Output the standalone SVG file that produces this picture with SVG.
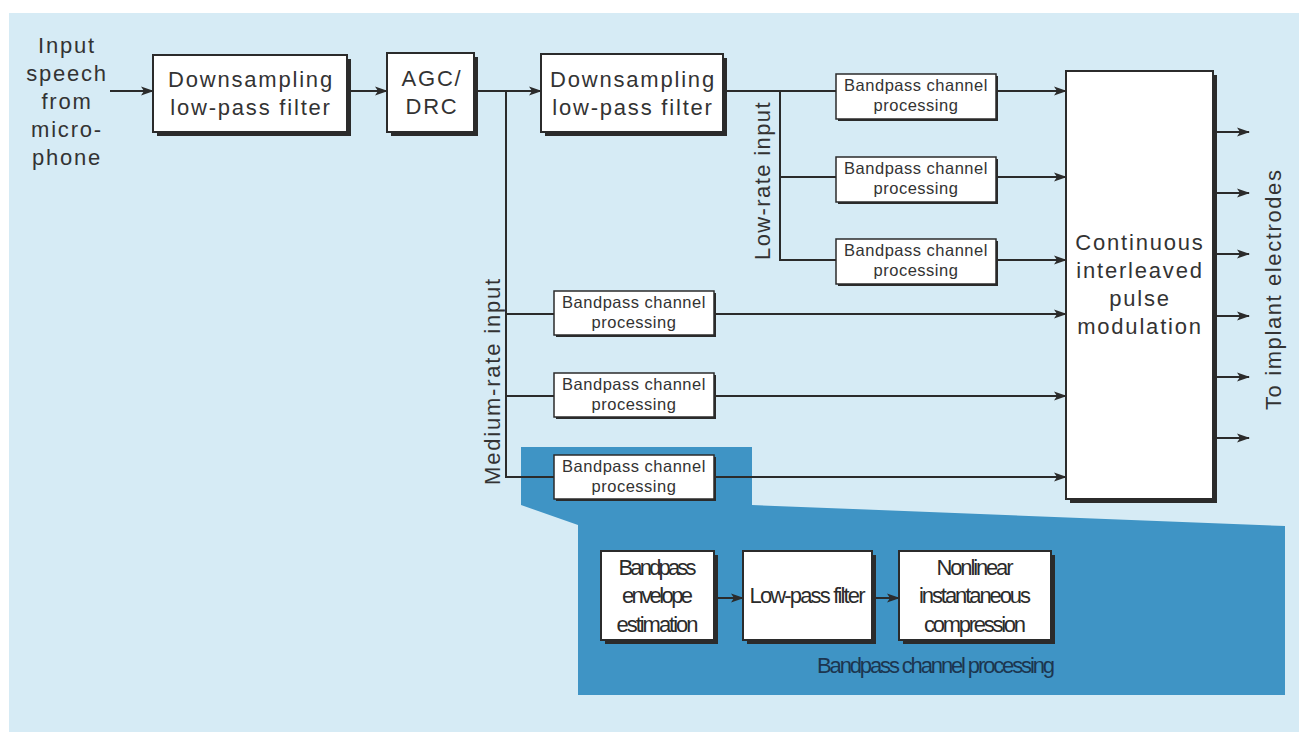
<svg xmlns="http://www.w3.org/2000/svg" width="1299" height="732" viewBox="0 0 1299 732">
  <defs>
    <marker id="arrow" viewBox="0 0 13 10" refX="12" refY="5" markerWidth="13" markerHeight="10" markerUnits="userSpaceOnUse" orient="auto">
      <path d="M0,0.5 L13,5 L0,9.5 L3,5 z" fill="#2b2b2b"/>
    </marker>
    <style>
      .bg { fill: #d6ebf5; }
      .hl { fill: #3f94c5; }
      .box { fill: #ffffff; stroke: #2b2b2b; stroke-width: 2; }
      .sbox { fill: #ffffff; stroke: #2b2b2b; stroke-width: 1.5; }
      .shadow { fill: #2b2b2b; }
      .wire { fill: none; stroke: #2b2b2b; stroke-width: 2; }
      .arr { fill: none; stroke: #2b2b2b; stroke-width: 2; marker-end: url(#arrow); }
      .t { font-family: "Liberation Sans", Arial, sans-serif; font-size: 22px; fill: #333333; letter-spacing: 1.8px; }
      .c { text-anchor: middle; }
      .s { font-family: "Liberation Sans", Arial, sans-serif; font-size: 16.5px; fill: #333333; letter-spacing: 0.5px; text-anchor: middle; }
      .n { font-family: "Liberation Sans Narrow", "Liberation Sans", Arial, sans-serif; font-size: 22px; fill: #2b2b2b; text-anchor: middle; }
      .cap { font-family: "Liberation Sans Narrow", "Liberation Sans", Arial, sans-serif; font-size: 22px; fill: #1c3650; text-anchor: end; }
    </style>
  </defs>

  <!-- page background -->
  <rect class="bg" x="9" y="13" width="1290" height="719"/>

  <!-- call-out region for the expanded channel -->
  <polygon class="hl" points="521,447 752,447 752,505 1285,526 1285,695 578,695 578,525 521,505"/>

  <!-- connectors -->
  <g id="connectors">
    <line class="arr" x1="110" y1="91" x2="153" y2="91"/>
    <line class="arr" x1="351" y1="91" x2="387" y2="91"/>
    <line class="arr" x1="477" y1="91" x2="541" y2="91"/>
    <!-- medium-rate bus -->
    <polyline class="wire" points="506,91 506,477 554,477"/>
    <line class="wire" x1="506" y1="314" x2="554" y2="314"/>
    <line class="wire" x1="506" y1="396" x2="554" y2="396"/>
    <!-- low-rate bus -->
    <line class="wire" x1="727" y1="91" x2="836" y2="91"/>
    <polyline class="wire" points="780,91 780,260 836,260"/>
    <line class="wire" x1="780" y1="177" x2="836" y2="177"/>
    <!-- channels into the pulse modulator -->
    <line class="arr" x1="996" y1="91" x2="1066" y2="91"/>
    <line class="arr" x1="996" y1="177" x2="1066" y2="177"/>
    <line class="arr" x1="996" y1="260" x2="1066" y2="260"/>
    <line class="arr" x1="714" y1="314" x2="1066" y2="314"/>
    <line class="arr" x1="714" y1="396" x2="1066" y2="396"/>
    <line class="arr" x1="714" y1="477" x2="1066" y2="477"/>
    <!-- electrode outputs -->
    <line class="arr" x1="1217" y1="132" x2="1249" y2="132"/>
    <line class="arr" x1="1217" y1="193" x2="1249" y2="193"/>
    <line class="arr" x1="1217" y1="254" x2="1249" y2="254"/>
    <line class="arr" x1="1217" y1="316" x2="1249" y2="316"/>
    <line class="arr" x1="1217" y1="377" x2="1249" y2="377"/>
    <line class="arr" x1="1217" y1="438" x2="1249" y2="438"/>
    <!-- inside the channel -->
    <line class="arr" x1="718" y1="598" x2="743" y2="598"/>
    <line class="arr" x1="876" y1="598" x2="899" y2="598"/>
  </g>

  <!-- labels -->
  <g id="input-label">
    <text class="t c" x="67" y="53">Input</text>
    <text class="t c" x="67" y="81">speech</text>
    <text class="t c" x="67" y="109">from</text>
    <text class="t c" x="67" y="137">micro-</text>
    <text class="t c" x="67" y="165">phone</text>
  </g>
  <text class="t" transform="translate(500,485) rotate(-90)">Medium-rate input</text>
  <text class="t" transform="translate(770,260) rotate(-90)" style="letter-spacing:1.4px">Low-rate input</text>
  <text class="t" transform="translate(1281,410) rotate(-90)" style="letter-spacing:1.6px">To implant electrodes</text>

  <!-- nodes -->
  <g id="downsample1">
    <rect class="shadow" x="157" y="59" width="194" height="77"/>
    <rect class="box" x="153" y="55" width="194" height="77"/>
    <text class="t c" x="251" y="87">Downsampling</text>
    <text class="t c" x="251" y="115">low-pass filter</text>
  </g>
  <g id="agc">
    <rect class="shadow" x="391" y="57" width="87" height="79"/>
    <rect class="box" x="387" y="53" width="87" height="79"/>
    <text class="t c" x="432" y="86">AGC/</text>
    <text class="t c" x="432" y="114">DRC</text>
  </g>
  <g id="downsample2">
    <rect class="shadow" x="545" y="58" width="182" height="78"/>
    <rect class="box" x="541" y="54" width="182" height="78"/>
    <text class="t c" x="633" y="87">Downsampling</text>
    <text class="t c" x="633" y="115">low-pass filter</text>
  </g>

  <g id="low-ch1">
    <rect class="shadow" x="838" y="76" width="160" height="45"/>
    <rect class="sbox" x="836" y="74" width="160" height="45"/>
    <text class="s" x="916" y="91">Bandpass channel</text>
    <text class="s" x="916" y="111">processing</text>
  </g>
  <g id="low-ch2">
    <rect class="shadow" x="838" y="159" width="160" height="45"/>
    <rect class="sbox" x="836" y="157" width="160" height="45"/>
    <text class="s" x="916" y="174">Bandpass channel</text>
    <text class="s" x="916" y="194">processing</text>
  </g>
  <g id="low-ch3">
    <rect class="shadow" x="838" y="241" width="160" height="45"/>
    <rect class="sbox" x="836" y="239" width="160" height="45"/>
    <text class="s" x="916" y="256">Bandpass channel</text>
    <text class="s" x="916" y="276">processing</text>
  </g>
  <g id="mid-ch1">
    <rect class="shadow" x="556" y="293" width="160" height="44"/>
    <rect class="sbox" x="554" y="291" width="160" height="44"/>
    <text class="s" x="634" y="308">Bandpass channel</text>
    <text class="s" x="634" y="328">processing</text>
  </g>
  <g id="mid-ch2">
    <rect class="shadow" x="556" y="375" width="160" height="44"/>
    <rect class="sbox" x="554" y="373" width="160" height="44"/>
    <text class="s" x="634" y="390">Bandpass channel</text>
    <text class="s" x="634" y="410">processing</text>
  </g>
  <g id="mid-ch3">
    <rect class="shadow" x="556" y="457" width="160" height="44"/>
    <rect class="sbox" x="554" y="455" width="160" height="44"/>
    <text class="s" x="634" y="472">Bandpass channel</text>
    <text class="s" x="634" y="492">processing</text>
  </g>

  <g id="cip">
    <rect class="shadow" x="1070" y="75" width="147" height="428"/>
    <rect class="box" x="1066" y="71" width="147" height="428"/>
    <text class="t c" x="1140" y="250">Continuous</text>
    <text class="t c" x="1140" y="278">interleaved</text>
    <text class="t c" x="1140" y="306">pulse</text>
    <text class="t c" x="1140" y="334">modulation</text>
  </g>

  <g id="envelope">
    <rect class="shadow" x="605" y="555" width="113" height="89"/>
    <rect class="box" x="601" y="551" width="113" height="89"/>
    <text class="n" x="657.5" y="575" textLength="78">Bandpass</text>
    <text class="n" x="657.5" y="603" textLength="71">envelope</text>
    <text class="n" x="657.5" y="632" textLength="82">estimation</text>
  </g>
  <g id="lowpass">
    <rect class="shadow" x="747" y="555" width="129" height="89"/>
    <rect class="box" x="743" y="551" width="129" height="89"/>
    <text class="n" x="807.5" y="603" textLength="116">Low-pass filter</text>
  </g>
  <g id="compression">
    <rect class="shadow" x="903" y="555" width="152" height="89"/>
    <rect class="box" x="899" y="551" width="152" height="89"/>
    <text class="n" x="975" y="575" textLength="77">Nonlinear</text>
    <text class="n" x="975" y="603" textLength="112">instantaneous</text>
    <text class="n" x="975" y="632" textLength="102">compression</text>
  </g>
  <text class="cap" x="1055" y="673" textLength="238">Bandpass channel processing</text>
</svg>
